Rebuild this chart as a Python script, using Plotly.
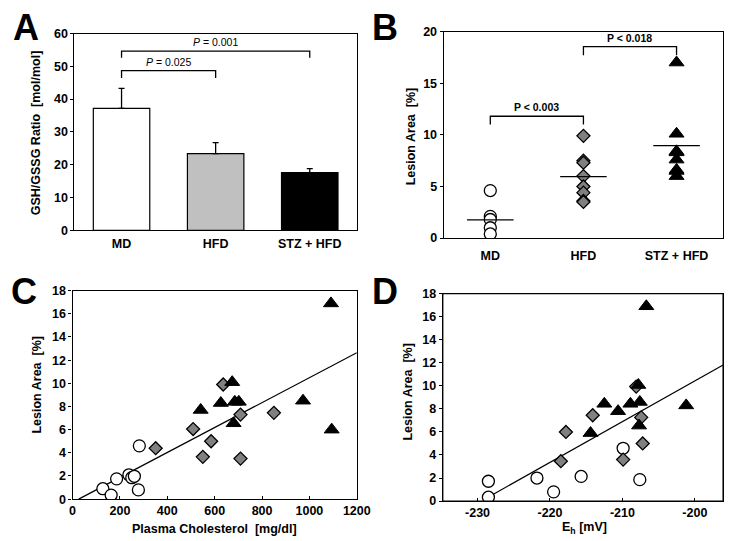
import plotly.graph_objects as go

W, H = 734, 541
FONT = "Liberation Sans, Arial, sans-serif"

# Panel A - GSH/GSSG ratio
groups = ["MD", "HFD", "STZ + HFD"]
ratio_mean = [37.2, 23.4, 17.6]
ratio_err = [6.1, 3.3, 1.2]

# Panel B - lesion area per group
b_md = [4.6, 2.1, 1.8, 1.0, 0.4]
b_hfd = [9.9, 7.5, 7.3, 6.0, 5.0, 4.4, 3.6, 3.5]
b_stz = [17.0, 10.1, 8.4, 8.3, 7.6, 6.6, 6.5, 6.0]
b_means = [1.76, 5.95, 8.95]

# Panel C - lesion area vs plasma cholesterol
c_md_x = [128, 163, 186, 238, 250, 261, 278, 282]
c_md_y = [0.9, 0.35, 1.75, 2.1, 1.85, 1.97, 0.8, 4.6]
c_hfd_x = [351, 509, 550, 585, 636, 709, 709, 850]
c_hfd_y = [4.4, 6.05, 3.65, 5.0, 9.9, 7.3, 3.5, 7.45]
c_stz_x = [1091, 674, 626, 685, 702, 973, 541, 680, 1094]
c_stz_y = [16.9, 10.1, 8.3, 8.4, 8.4, 8.5, 7.7, 6.55, 6.0]
c_fit = (0.01077, -0.28)   # slope, intercept
c_fit_x = [26, 1200]

# Panel D - lesion area vs Eh
d_md_x = [-228.5, -228.5, -221.8, -219.5, -215.7, -209.9, -207.6]
d_md_y = [1.72, 0.34, 2.0, 0.8, 2.14, 4.58, 1.86]
d_hfd_x = [-218.5, -217.8, -214.1, -209.9, -208.1, -207.4, -207.2]
d_hfd_y = [3.46, 6.0, 7.45, 3.6, 9.93, 7.26, 5.0]
d_stz_x = [-206.7, -207.8, -212.5, -208.9, -207.6, -201.2, -210.6, -207.7, -214.4]
d_stz_y = [16.9, 10.07, 8.44, 8.44, 8.6, 8.3, 7.8, 6.55, 5.9]
d_fit = (0.3535, 81.13)
d_fit_x = [-228.3, -196.1]
d_ticks = [-230, -220, -210, -200]
d_ticktext = ["-230", "-220", "-210", "-200"]


def px(x):
    return x / W


def py(y):
    return 1 - y / H


circle = dict(symbol="circle", size=12, color="white", line=dict(color="black", width=1.3))
diamond = dict(symbol="diamond", size=10, color="#808080", line=dict(color="black", width=1.3))
triangle = dict(symbol="triangle-up", size=13, color="black", line=dict(color="black", width=1))

fig = go.Figure()

# A
fig.add_trace(go.Bar(
    x=[0, 1, 2], y=ratio_mean, width=0.6,
    marker=dict(color=["white", "#c0c0c0", "black"], line=dict(color="black", width=1.2)),
    error_y=dict(type="data", array=ratio_err, arrayminus=[0, 0, 0], symmetric=False,
                 color="black", thickness=1.3, width=3),
    xaxis="x", yaxis="y",
))

# B
for i, (vals, mk) in enumerate([(b_md, circle), (b_hfd, diamond), (b_stz, triangle)]):
    fig.add_trace(go.Scatter(x=[i] * len(vals), y=vals, mode="markers", marker=mk,
                             xaxis="x2", yaxis="y2"))
for i, m in enumerate(b_means):
    fig.add_trace(go.Scatter(x=[i - 0.25, i + 0.25], y=[m, m], mode="lines",
                             line=dict(color="black", width=1.3), xaxis="x2", yaxis="y2"))

# C
fig.add_trace(go.Scatter(x=c_fit_x, y=[c_fit[0] * v + c_fit[1] for v in c_fit_x], mode="lines",
                         line=dict(color="black", width=1.2), xaxis="x3", yaxis="y3"))
fig.add_trace(go.Scatter(x=c_md_x, y=c_md_y, mode="markers", marker=circle, xaxis="x3", yaxis="y3"))
fig.add_trace(go.Scatter(x=c_hfd_x, y=c_hfd_y, mode="markers", marker=diamond, xaxis="x3", yaxis="y3"))
fig.add_trace(go.Scatter(x=c_stz_x, y=c_stz_y, mode="markers", marker=triangle, xaxis="x3", yaxis="y3"))

# D
fig.add_trace(go.Scatter(x=d_fit_x, y=[d_fit[0] * v + d_fit[1] for v in d_fit_x], mode="lines",
                         line=dict(color="black", width=1.2), xaxis="x4", yaxis="y4"))
fig.add_trace(go.Scatter(x=d_md_x, y=d_md_y, mode="markers", marker=circle, xaxis="x4", yaxis="y4"))
fig.add_trace(go.Scatter(x=d_hfd_x, y=d_hfd_y, mode="markers", marker=diamond, xaxis="x4", yaxis="y4"))
fig.add_trace(go.Scatter(x=d_stz_x, y=d_stz_y, mode="markers", marker=triangle, xaxis="x4", yaxis="y4"))

tickfont = dict(family=FONT, size=12.5, color="black", weight="bold")
base = dict(showline=True, linecolor="black", linewidth=1.3, mirror=True, showgrid=False,
            zeroline=False, tickfont=tickfont, tickcolor="black", ticklen=3, tickwidth=1)

fig.update_layout(
    width=W, height=H, margin=dict(l=0, r=0, t=0, b=0),
    paper_bgcolor="white", plot_bgcolor="white", showlegend=False,
    font=dict(family=FONT, color="black"),
    xaxis=dict(base, domain=[px(65), px(354)], range=[-0.5, 2.5], tickvals=[0, 1, 2],
               ticktext=groups, ticks="", ticklabelstandoff=2, anchor="y"),
    yaxis=dict(base, domain=[py(221), py(19)], range=[0, 60], dtick=10, ticks="outside", anchor="x"),
    xaxis2=dict(base, domain=[px(443), px(729)], range=[-0.5, 2.5], tickvals=[0, 1, 2],
                ticktext=groups, ticks="", ticklabelstandoff=6, anchor="y2"),
    yaxis2=dict(base, domain=[py(229), py(17)], range=[0, 20], dtick=5, ticks="outside", anchor="x2"),
    xaxis3=dict(base, domain=[px(63), px(354)], range=[0, 1200], dtick=200, ticks="inside", anchor="y3"),
    yaxis3=dict(base, domain=[py(497), py(283)], range=[0, 18], dtick=2, ticks="outside", anchor="x3"),
    xaxis4=dict(base, domain=[px(442), px(729)], range=[-234.8, -196.1], tickvals=d_ticks,
                ticktext=d_ticktext, ticks="inside", anchor="y4"),
    yaxis4=dict(base, domain=[py(499), py(286)], range=[0, 18], dtick=2, ticks="outside", anchor="x4"),
)

# frame for panel D
fig.add_shape(type="rect", xref="x4 domain", yref="y4 domain", x0=0, x1=1, y0=0, y1=1,
              line=dict(color="black", width=1.3), layer="above")

# significance brackets
brackets = [
    ("x", "y", 0, 2, 54.6, 52.6, "<i>P</i> = 0.001", False),
    ("x", "y", 0, 1, 48.7, 46.4, "<i>P</i> = 0.025", False),
    ("x2", "y2", 0, 1, 11.8, 11.0, "P < 0.003", True),
    ("x2", "y2", 1, 2, 18.55, 17.7, "P < 0.018", True),
]
for xr, yr, x0, x1, ytop, ybot, label, bold in brackets:
    fig.add_shape(type="path", xref=xr, yref=yr,
                  path=f"M {x0},{ybot} L {x0},{ytop} L {x1},{ytop} L {x1},{ybot}",
                  line=dict(color="black", width=1.3))
    fig.add_annotation(x=(x0 + x1) / 2, y=ytop, xref=xr, yref=yr, text=label, showarrow=False,
                       yanchor="bottom", yshift=1,
                       font=dict(family=FONT, size=10.5, color="black", weight="bold" if bold else "normal"))

titles = [
    (25, 121, "GSH/GSSG Ratio\u00a0\u00a0[mol/mol]", -90),
    (409, 125, "Lesion Area\u00a0\u00a0[%]", -90),
    (27, 380, "Lesion Area\u00a0\u00a0[%]", -90),
    (406, 387, "Lesion Area\u00a0\u00a0[%]", -90),
    (208, 528, "Plasma Cholesterol\u00a0\u00a0[mg/dl]", 0),
    (587, 527, "E<sub>h</sub> [mV]", 0),
]
for x, y, t, ang in titles:
    fig.add_annotation(x=px(x), y=py(y), xref="paper", yref="paper", text=t, textangle=ang,
                       showarrow=False, xanchor="center", yanchor="middle",
                       font=dict(family=FONT, size=12.5, color="black", weight="bold"))

for x, y, t in [(15, 13, "A"), (383, 13, "B"), (13, 284, "C"), (383, 284, "D")]:
    fig.add_annotation(x=px(x), y=py(y), xref="paper", yref="paper", text=t, showarrow=False,
                       xanchor="center", yanchor="middle",
                       font=dict(family=FONT, size=36, color="black", weight="bold"))

fig.write_html("out.html")
